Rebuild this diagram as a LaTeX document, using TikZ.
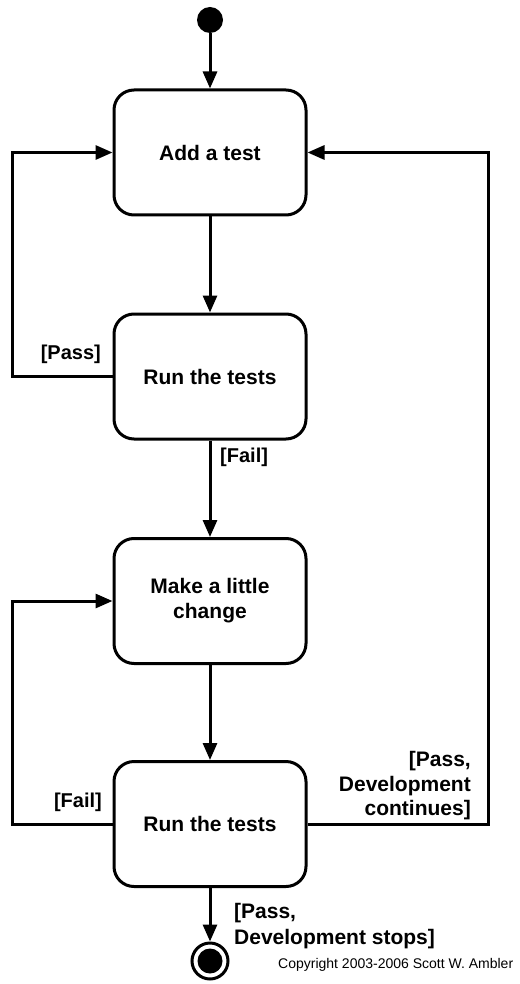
\documentclass[tikz,border=0pt]{standalone}
\usepackage{fontspec}
\setmainfont{Liberation Sans}
\usetikzlibrary{arrows.meta}
\tikzset{
  activity/.style={draw, line width=3pt, rounded corners=20pt, minimum width=192pt, minimum height=125pt, inner sep=0pt, align=center, font=\fontsize{21}{25}\selectfont\bfseries},
  arr/.style={line width=3pt, -{Triangle[length=17pt,width=14pt]}},
  guard/.style={inner sep=0pt, font=\fontsize{20}{23}\selectfont\bfseries},
}
\begin{document}
\begin{tikzpicture}[x=1pt,y=-1pt]
\useasboundingbox (0,0) rectangle (519,984);
\node[circle, fill=black, minimum size=26pt, inner sep=0pt] (start) at (210,20) {};
\node[activity] (b1) at (210,152.5) {Add a test};
\node[activity] (b2) at (210,376.5) {Run the tests};
\node[activity] (b3) at (210,601) {Make a little\\change};
\node[activity] (b4) at (210,824) {Run the tests};
\node[circle, draw, line width=3pt, minimum size=36pt, inner sep=0pt] (stop) at (210,961) {};
\fill (stop.center) circle (12.5pt);

\draw[arr] (start) -- (b1.north);
\draw[arr] (b1.south) -- (b2.north);
\draw[arr] (b2.west) -- ++(-100,0) |- (b1.west);
\draw[arr] (b2.south) -- (b3.north);
\draw[arr] (b3.south) -- (b4.north);
\draw[arr] (b4.west) -- ++(-100,0) |- (b3.west);
\draw[arr] (b4.east) -- ++(181,0) |- (b1.east);
\draw[arr] (b4.south) -- (stop.north);

\node[guard, anchor=east] (gpass1) at (101,354) {[Pass]};
\node[guard, anchor=west] (gfail1) at (220,457) {[Fail]};
\node[guard, anchor=east] (gfail2) at (102,802) {[Fail]};
\node[guard, anchor=east, align=right, font=\fontsize{21}{24.5}\selectfont\bfseries] (gcont) at (471,786) {[Pass,\\Development\\continues]};
\node[guard, anchor=west, align=left, font=\fontsize{21}{26}\selectfont\bfseries] (gstop) at (234,926) {[Pass,\\Development stops]};
\node[inner sep=0pt, anchor=west, font=\fontsize{14}{16}\selectfont] (copy) at (278,965) {Copyright 2003-2006 Scott W. Ambler};
\end{tikzpicture}
\end{document}
